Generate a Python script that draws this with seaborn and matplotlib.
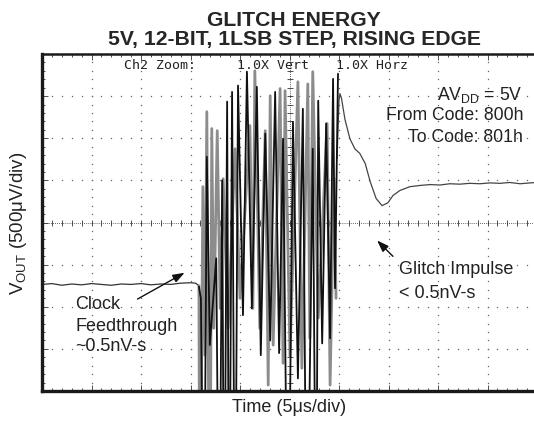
import numpy as np
import pandas as pd
import matplotlib
matplotlib.use("Agg")
import matplotlib.pyplot as plt
import seaborn as sns

# ---- data (time in divisions of 5 us, voltage in divisions of 500 uV) ----
# troughs of -9 are off-screen (clipped by the bottom of the graticule)
base_t = [0.0, 0.2, 0.4, 0.6, 0.8, 1.0, 1.2, 1.4, 1.6, 1.8, 2.0, 2.2, 2.4, 2.6, 2.8, 3.0, 3.1, 3.17]
base_v = [-1.47, -1.45, -1.49, -1.46, -1.48, -1.45, -1.47, -1.49, -1.46, -1.47, -1.45, -1.48,
          -1.46, -1.47, -1.44, -1.43, -1.44, -1.50]

black_t = [3.17, 3.21, 3.27, 3.33, 3.39, 3.52, 3.58, 3.64, 3.68, 3.74, 3.78, 3.84, 3.90, 3.96,
           4.06, 4.14, 4.24, 4.34, 4.42, 4.51, 4.61, 4.71, 4.79, 4.87, 4.97, 5.07, 5.17, 5.27,
           5.35, 5.47, 5.54, 5.58, 5.66, 5.74, 5.82, 5.88, 5.92, 5.98]
black_v = [-1.52, -1.80, -9.0, 1.56, -2.91, -0.85, -9.0, 1.00, -9.0, 2.87, -9.0, 3.10, -9.0, 3.25,
           -2.20, 3.58, -2.04, 3.22, -3.15, 2.11, -2.80, 3.10, -3.10, 1.99, -9.0, 2.39, -3.70, 2.70,
           -9.0, 1.75, -9.0, 2.89, -2.87, 2.35, -2.75, 3.41, -1.56, 3.53]

gray_t = [3.17, 3.19, 3.25, 3.29, 3.33, 3.39, 3.43, 3.47, 3.54, 3.60, 3.66, 3.76, 3.90, 4.00,
          4.20, 4.26, 4.30, 4.40, 4.51, 4.57, 4.61, 4.67, 4.81, 4.87, 4.91, 5.01, 5.17, 5.25,
          5.37, 5.41, 5.47, 5.58, 5.76, 5.82, 5.90, 5.94]
gray_v = [-1.50, -9.0, 0.85, -3.15, 2.63, -9.0, 2.23, -2.51, 2.18, -2.04, 1.04, -2.51, 1.75, -1.80,
          2.30, -2.04, 3.60, -2.51, 2.18, -3.86, 3.01, -2.91, 3.18, -3.34, 3.13, -3.18, 3.34, -3.46,
          3.29, -2.75, 3.58, -2.27, 2.35, -3.86, 1.04, -1.80]

glitch_t = [5.96, 6.00, 6.02, 6.05, 6.12, 6.22, 6.32, 6.42, 6.53, 6.63, 6.75, 6.87, 6.99, 7.09,
            7.23, 7.43, 7.64, 7.84, 8.04, 8.24, 8.44, 8.64, 8.85, 9.05, 9.25, 9.45, 9.66, 9.86, 10.0]
glitch_v = [1.52, 2.90, 3.06, 2.95, 2.45, 1.99, 1.75, 1.64, 1.40, 0.97, 0.57, 0.40, 0.47, 0.64,
            0.76, 0.85, 0.88, 0.90, 0.89, 0.92, 0.91, 0.93, 0.92, 0.94, 0.93, 0.95, 0.92, 0.94, 0.95]

title_lines = ["GLITCH ENERGY", "5V, 12-BIT, 1LSB STEP, RISING EDGE"]
x_label = "Time (5\u03bcs/div)"
y_label = "V$_{\\mathrm{OUT}}$ (500\u03bcV/div)"
scope_texts = ["Ch2 Zoom:", "1.0X Vert", "1.0X Horz"]
cond_texts = ["AV$_{\\mathrm{DD}}$ = 5V", "From Code: 800h", "To Code: 801h"]

# ---- style ----
sns.set_style("white")
plt.rcParams["font.family"] = ["Liberation Sans", "DejaVu Sans"]
plt.rcParams["mathtext.fontset"] = "custom"
plt.rcParams["mathtext.rm"] = "Liberation Sans"
plt.rcParams["mathtext.it"] = "Liberation Sans:italic"
plt.rcParams["mathtext.bf"] = "Liberation Sans:bold"

W, H = 534, 427
fig = plt.figure(figsize=(W / 100, H / 100), dpi=100)
L, R, T, B = 42, 537, 55, 392
ax = fig.add_axes([L / W, 1 - B / H, (R - L) / W, (B - T) / H])
ax.set_xlim(0, 10)
ax.set_ylim(-4, 4)

# ---- graticule ----
gcol = "#666666"
ys_f = np.arange(-4, 4.01, 0.2)
xs_f = np.arange(0, 10.01, 0.2)
for gx in range(1, 10):
    if gx == 5:
        continue
    ax.plot(np.full_like(ys_f, gx), ys_f, ls="none", marker="s", ms=0.9, mew=0, color=gcol, zorder=1)
for gy in range(-3, 4):
    if gy == 0:
        continue
    ax.plot(xs_f, np.full_like(xs_f, gy), ls="none", marker="s", ms=0.9, mew=0, color=gcol, zorder=1)
# centre cross
ax.axhline(0, color="#333333", lw=0.6, ls=(0, (1, 1.5)), zorder=1)
ax.axvline(5, color="#333333", lw=0.6, ls=(0, (1, 1.5)), zorder=1)
ax.plot(xs_f, np.zeros_like(xs_f), ls="none", marker="|", ms=4, mew=0.6, color="#333333", zorder=1)
ax.plot(np.full_like(ys_f, 5), ys_f, ls="none", marker="_", ms=4, mew=0.6, color="#333333", zorder=1)

# ---- traces ----
sns.lineplot(x=base_t, y=base_v, sort=False, estimator=None, color="#333333", lw=0.9, ax=ax, zorder=3)
sns.lineplot(x=gray_t, y=gray_v, sort=False, estimator=None, color="#8c8c8c", lw=2.0, ax=ax, zorder=3)
sns.lineplot(x=black_t, y=black_v, sort=False, estimator=None, color="#111111", lw=1.3, ax=ax, zorder=4)
sns.lineplot(x=glitch_t, y=glitch_v, sort=False, estimator=None, color="#444444", lw=0.9, ax=ax, zorder=3)

# ---- spines / ticks ----
for side in ["left", "top", "bottom"]:
    ax.spines[side].set_color("#1a1a1a")
    ax.spines[side].set_zorder(5)
ax.spines["left"].set_linewidth(2.4)
ax.spines["bottom"].set_linewidth(2.4)
ax.spines["top"].set_linewidth(1.8)
ax.spines["right"].set_visible(False)
ax.set_xticks(np.arange(0, 10.01, 1))
ax.set_yticks(np.arange(-4, 4.01, 1))
ax.set_xticks(xs_f, minor=True)
ax.set_yticks(ys_f, minor=True)
ax.tick_params(which="both", direction="in", top=True, bottom=True, left=True, right=False,
               labelbottom=False, labelleft=False, color="#333333", width=0.6)
ax.tick_params(which="major", length=4)
ax.tick_params(which="minor", length=2.5)

ax.set_xlabel(x_label, fontsize=13, labelpad=5, color="#222222")
ax.set_ylabel(y_label, fontsize=13.5, labelpad=9, color="#222222")

# ---- titles ----
fig.text(294 / W, 1 - 20 / H, title_lines[0], ha="center", va="center", fontsize=15.2, fontweight="bold")
fig.text(294 / W, 1 - 39 / H, title_lines[1], ha="center", va="center", fontsize=15.2, fontweight="bold")

# ---- scope header text ----
for txt, px in zip(scope_texts, [124, 237, 336]):
    fig.text(px / W, 1 - 66 / H, txt, ha="left", va="center", fontsize=9.5,
             family="DejaVu Sans Mono", color="#222222")

# ---- conditions ----
for txt, py in zip(cond_texts, [95, 116, 137]):
    fig.text(523 / W, 1 - py / H, txt, ha="right", va="center", fontsize=12.7, color="#222222")

# ---- annotations ----
ax.annotate("", xy=(6.73, -0.38), xytext=(7.13, -0.85),
            arrowprops=dict(arrowstyle="-|>,head_length=0.7,head_width=0.25", color="#111111", lw=1.0))
ax.text(7.21, -1.09, "Glitch Impulse", ha="left", va="center", fontsize=13, color="#222222")
ax.text(7.21, -1.66, "< 0.5nV-s", ha="left", va="center", fontsize=13, color="#222222")

ax.annotate("", xy=(2.93, -1.16), xytext=(1.88, -1.85),
            arrowprops=dict(arrowstyle="-|>,head_length=0.7,head_width=0.25", color="#111111", lw=1.0))
for txt, vy in zip(["Clock", "Feedthrough", "~0.5nV-s"], [-1.92, -2.44, -2.91]):
    ax.text(0.67, vy, txt, ha="left", va="center", fontsize=13, color="#222222")

fig.savefig("out.png", dpi=100)
